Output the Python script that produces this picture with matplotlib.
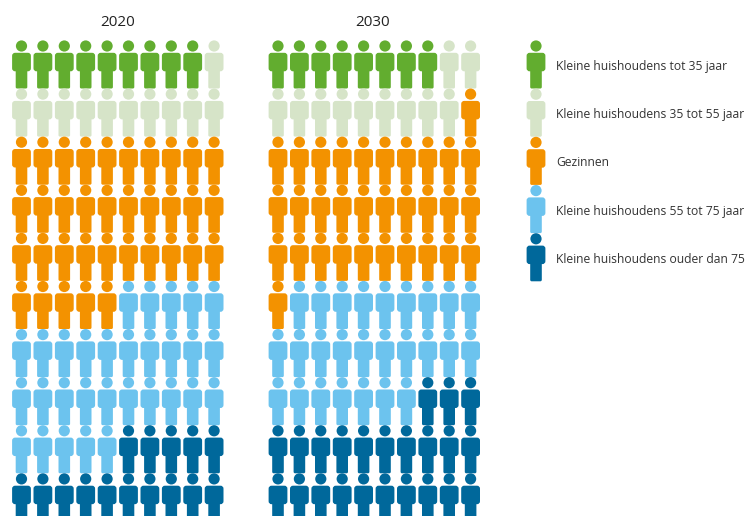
import matplotlib
matplotlib.use('Agg')
import matplotlib.pyplot as plt
from matplotlib.patches import Circle, FancyBboxPatch

plt.rcParams['font.family'] = ['Open Sans', 'DejaVu Sans']

years = ['2020', '2030']
labels = ['Kleine huishoudens tot 35 jaar',
          'Kleine huishoudens 35 tot 55 jaar',
          'Gezinnen',
          'Kleine huishoudens 55 tot 75 jaar',
          'Kleine huishoudens ouder dan 75']
colors = ['#62ad2f', '#d6e4c8', '#f39200', '#6cc3ee', '#00689b']

# number of people out of 100 per group
counts_2020 = [9, 11, 35, 30, 15]
counts_2030 = [8, 11, 32, 26, 23]

step_x = 21.4
step_y = 48.1
top = 46


def person(ax, cx, y, color):
    # y is the centre of the head
    ax.add_patch(Circle((cx, y), 5.6, fc=color, ec='none'))
    ax.add_patch(FancyBboxPatch((cx - 9.4, y + 6.8), 18.8, 18.5,
                                boxstyle='round,pad=0,rounding_size=3',
                                fc=color, ec='none'))
    ax.add_patch(FancyBboxPatch((cx - 5.8, y + 15), 11.6, 27.5,
                                boxstyle='round,pad=0,rounding_size=1.5',
                                fc=color, ec='none'))


def block(ax, x0, counts):
    # fill the grid row by row, ten people on a row
    i = 0
    for n, color in zip(counts, colors):
        for k in range(n):
            col = i % 10
            row = i // 10
            person(ax, x0 + col * step_x, top + row * step_y, color)
            i += 1


fig = plt.figure(figsize=(7.54, 5.16), dpi=100)
ax = fig.add_axes([0, 0, 1, 1])
ax.set_xlim(0, 754)
ax.set_ylim(516, 0)
ax.axis('off')

block(ax, 21.5, counts_2020)
block(ax, 278, counts_2030)

ax.text(118, 22, years[0], ha='center', va='center', fontsize=11, color='#222222')
ax.text(373, 22, years[1], ha='center', va='center', fontsize=11, color='#222222')

# legend
for i in range(len(labels)):
    y = 46 + i * 48.2
    person(ax, 536, y, colors[i])
    ax.text(556, y + 20.5, labels[i], ha='left', va='center', fontsize=8.7, color='#333333')

fig.savefig('out.png', dpi=100)
